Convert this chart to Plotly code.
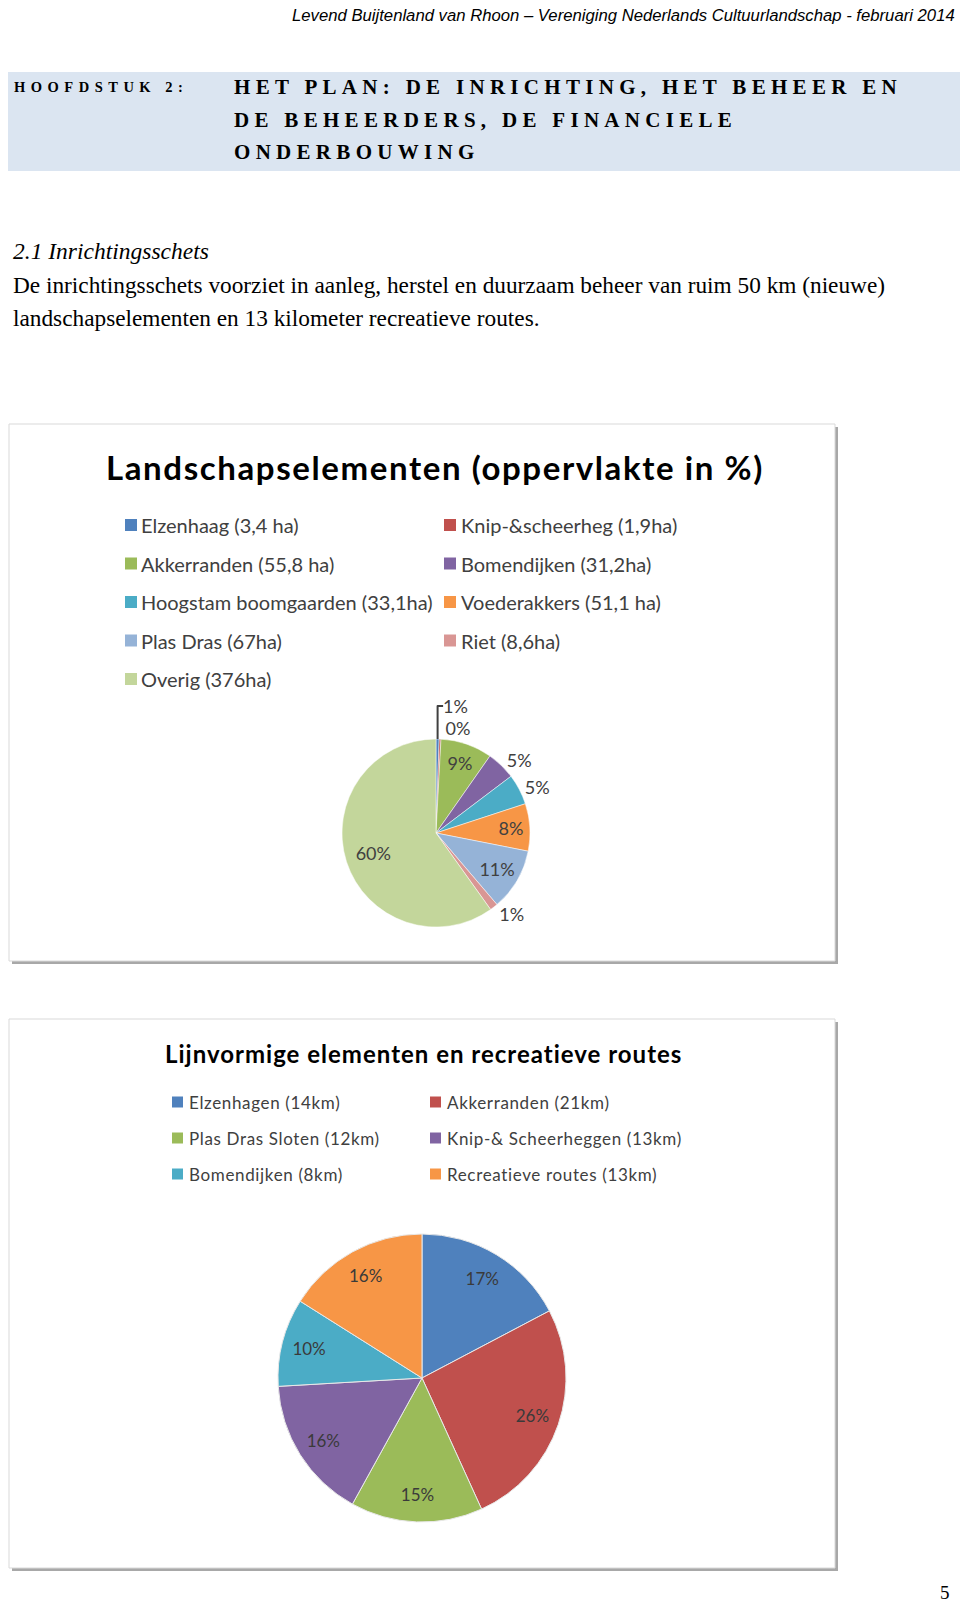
import plotly.graph_objects as go

W, H = 960, 1603

# ---------------- data ----------------
land_labels = ["Elzenhaag (3,4 ha)", "Knip-&scheerheg (1,9ha)", "Akkerranden (55,8 ha)",
               "Bomendijken (31,2ha)", "Hoogstam boomgaarden (33,1ha)", "Voederakkers (51,1 ha)",
               "Plas Dras (67ha)", "Riet (8,6ha)", "Overig (376ha)"]
land_values = [3.4, 1.9, 55.8, 31.2, 33.1, 51.1, 67, 8.6, 376]
land_colors = ["#4F81BD", "#C0504D", "#9BBB59", "#8064A2", "#4BACC6", "#F79646",
               "#95B3D7", "#D99694", "#C3D69B"]
land_textpos = ["outside", "outside", "inside", "outside", "outside", "inside",
                "inside", "outside", "inside"]

line_labels = ["Elzenhagen (14km)", "Akkerranden (21km)", "Plas Dras Sloten (12km)",
               "Knip-& Scheerheggen (13km)", "Bomendijken (8km)", "Recreatieve routes (13km)"]
line_values = [14, 21, 12, 13, 8, 13]
line_colors = ["#4F81BD", "#C0504D", "#9BBB59", "#8064A2", "#4BACC6", "#F79646"]

header_text = "Levend Buijtenland van Rhoon – Vereniging Nederlands Cultuurlandschap - februari 2014"
chapter_label = "HOOFDSTUK 2:"
chapter_lines = ["HET PLAN: DE INRICHTING, HET BEHEER EN",
                 "DE BEHEERDERS, DE FINANCIELE",
                 "ONDERBOUWING"]
section_title = "2.1 Inrichtingsschets"
body_lines = ["De inrichtingsschets voorziet in aanleg, herstel en duurzaam beheer van ruim 50 km (nieuwe)",
              "landschapselementen en 13 kilometer recreatieve routes."]
chart1_title = "Landschapselementen (oppervlakte in %)"
chart2_title = "Lijnvormige elementen en recreatieve routes"
page_number = "5"

# ---------------- helpers ----------------
def px(x):
    return x / W

def py(y):
    return 1 - y / H

SERIF = "Liberation Serif, Times New Roman, serif"
SANS = "Liberation Sans, Arial, sans-serif"
CAL = "Lato, Carlito, Calibri, sans-serif"

fig = go.Figure()

def pie_domain(cx, cy, r):
    return dict(x=[px(cx - r), px(cx + r)], y=[py(cy + r), py(cy - r)])

def add_pie(labels, values, colors, dom, textpos, tsize, tcolor, hole, line):
    # full pie (colours)
    fig.add_trace(go.Pie(
        labels=labels, values=values, sort=False, direction="clockwise", rotation=0,
        marker=dict(colors=colors, line=line), textinfo="none",
        domain=dom, showlegend=False, hoverinfo="label+percent",
    ))
    # transparent ring on top that carries the percentage labels further out
    fig.add_trace(go.Pie(
        labels=labels, values=values, sort=False, direction="clockwise", rotation=0,
        hole=hole,
        marker=dict(colors=["rgba(0,0,0,0)"] * len(values), line=dict(width=0)),
        texttemplate="%{percent:.0%}", textposition=textpos,
        insidetextorientation="horizontal",
        textfont=dict(family=CAL, size=tsize, color=tcolor),
        outsidetextfont=dict(family=CAL, size=tsize, color=tcolor),
        domain=dom, showlegend=False, hoverinfo="skip",
    ))

add_pie(land_labels, land_values, land_colors, pie_domain(436, 833, 94), land_textpos,
        18, "#404040", 0.4, dict(color="white", width=0.5))
add_pie(line_labels, line_values, line_colors, pie_domain(422, 1378, 144), "inside",
        17, "#3a3a3a", 0.62, dict(color="#e8e8e8", width=1))

shapes = []
ann = []

# header band
shapes.append(dict(type="rect", xref="paper", yref="paper", x0=px(8), x1=px(960),
                   y0=py(171), y1=py(72), fillcolor="#DBE5F1", line=dict(width=0), layer="below"))

# chart boxes with shadow
for (x0, y0, x1, y1) in [(9, 424, 835, 961), (9, 1019, 835, 1568)]:
    shapes.append(dict(type="rect", xref="paper", yref="paper", x0=px(x0 + 3), x1=px(x1 + 3),
                       y0=py(y1 + 3), y1=py(y0 + 3), fillcolor="#a8a8a8",
                       line=dict(width=0), layer="below"))
    shapes.append(dict(type="rect", xref="paper", yref="paper", x0=px(x0), x1=px(x1),
                       y0=py(y1), y1=py(y0), fillcolor="white",
                       line=dict(width=1, color="#d9d9d9"), layer="below"))

def text(x, y, s, size, family, color="#000", xanchor="left", yanchor="middle"):
    ann.append(dict(x=px(x), y=py(y), xref="paper", yref="paper", text=s, showarrow=False,
                    xanchor=xanchor, yanchor=yanchor, align="left",
                    font=dict(size=size, family=family, color=color)))

def spaced(s, sp):
    return '<span style="letter-spacing:%spx">%s</span>' % (sp, s)

# header line
text(957, 15, "<i>" + header_text + "</i>", 16.7, SANS, xanchor="right")

# chapter
text(12, 87, "<b>" + spaced(chapter_label, 5.5) + "</b>", 14.5, SERIF)
for i, line in enumerate(chapter_lines):
    text(232, 87 + i * 32.5, "<b>" + spaced(line, 5.3) + "</b>", 21, SERIF)

# section title and body
text(11, 251, "<i>" + section_title + "</i>", 23.5, SERIF)
for i, line in enumerate(body_lines):
    text(11, 285 + i * 32.5, line, 23.3, SERIF)

# chart titles
text(104, 467, "<b>" + spaced(chart1_title, 1.6) + "</b>", 33, CAL)
text(163, 1053, "<b>" + spaced(chart2_title, 1.0) + "</b>", 24, CAL)

# legends
def legend(labels, colors, col_sq, col_txt, y0, dy, sq, size, sp):
    for i, (lab, col) in enumerate(zip(labels, colors)):
        c, r = i % 2, i // 2
        yc = y0 + r * dy
        xs = col_sq[c]
        shapes.append(dict(type="rect", xref="paper", yref="paper",
                           x0=px(xs), x1=px(xs + sq), y0=py(yc + sq / 2), y1=py(yc - sq / 2),
                           fillcolor=col, line=dict(width=0)))
        text(col_txt[c], yc, spaced(lab, sp), size, CAL, color="#404040")

legend(land_labels, land_colors, [125, 444], [139, 459], 525, 38.5, 12, 20, 0)
legend(line_labels, line_colors, [172, 430], [187, 445], 1102, 36, 11, 17, 0.65)

# page number
text(952, 1592, page_number, 19, SERIF, xanchor="right")

fig.update_layout(
    width=W, height=H, margin=dict(l=0, r=0, t=0, b=0),
    paper_bgcolor="white", plot_bgcolor="white",
    shapes=shapes, annotations=ann, showlegend=False,
)

fig.write_html("out.html")
